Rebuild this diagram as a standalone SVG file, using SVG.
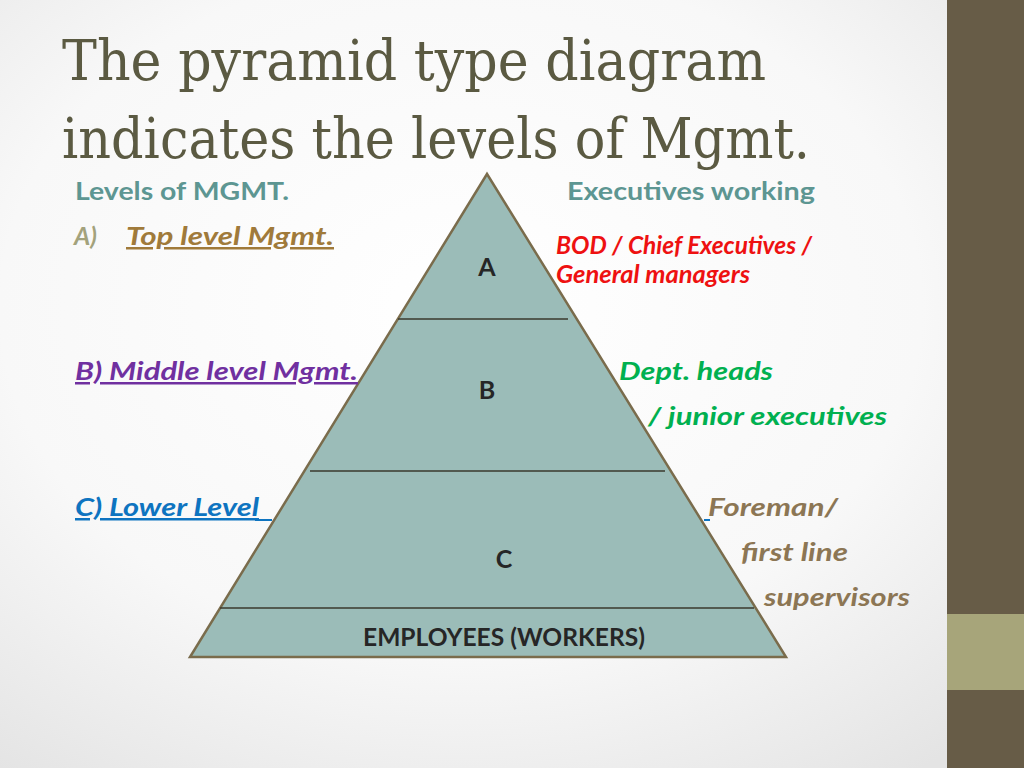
<svg xmlns="http://www.w3.org/2000/svg" width="1024" height="768" viewBox="0 0 1024 768">
<defs>
<radialGradient id="bg" cx="0.45" cy="0.4" r="0.75">
<stop offset="0" stop-color="#ffffff"/><stop offset="0.6" stop-color="#f8f8f8"/><stop offset="1" stop-color="#e4e4e4"/>
</radialGradient>
</defs>
<style>
.t{font-family:Lato,"Open Sans",sans-serif;font-weight:bold;font-size:25px}
.i{font-style:italic}
.title{font-family:"DejaVu Serif","Liberation Serif",serif;font-size:56px;fill:#5b5a42}
.ln{stroke:#3a3a2e;stroke-width:1.3}
</style>
<rect width="1024" height="768" fill="url(#bg)"/>
<rect x="947" y="0" width="77" height="768" fill="#675c47"/>
<rect x="947" y="614" width="77" height="76" fill="#a7a57a"/>
<text class="title" x="62" y="80" textLength="704" lengthAdjust="spacingAndGlyphs">The pyramid type diagram</text>
<text class="title" x="62" y="158" textLength="748" lengthAdjust="spacingAndGlyphs">indicates the levels of Mgmt.</text>
<g id="pyramid">
<polygon points="487,174 190,657 786,657" fill="#9bbcb8" stroke="#7a6c4c" stroke-width="2.5"/>
<line class="ln" x1="398" y1="319" x2="568" y2="319"/>
<line class="ln" x1="310" y1="471" x2="665" y2="471"/>
<line class="ln" x1="220" y1="608" x2="754" y2="608"/>
<text class="t" x="487" y="276" text-anchor="middle" fill="#262626" font-size="27">A</text>
<text class="t" x="487" y="399" text-anchor="middle" fill="#262626" font-size="27">B</text>
<text class="t" x="504" y="568" text-anchor="middle" fill="#262626" font-size="27">C</text>
<text class="t" x="363" y="646" fill="#262626" font-size="22" textLength="282" lengthAdjust="spacingAndGlyphs">EMPLOYEES (WORKERS)</text>
</g>
<g id="left">
<text class="t" x="75" y="200" fill="#5d9692" textLength="214" lengthAdjust="spacingAndGlyphs">Levels of MGMT.</text>
<text class="t i" x="74" y="245" fill="#a3a27c">A)</text>
<text class="t i" x="126" y="245" fill="#a07a3a" text-decoration="underline" textLength="208" lengthAdjust="spacingAndGlyphs">Top level Mgmt.</text>
<text class="t i" x="75" y="380" fill="#7030a0" text-decoration="underline" textLength="283" lengthAdjust="spacingAndGlyphs">B) Middle level Mgmt.</text>
<text class="t i" x="75" y="516" fill="#0e74c0" text-decoration="underline" textLength="184" lengthAdjust="spacingAndGlyphs">C) Lower Level</text>
<line x1="255" y1="520" x2="272" y2="520" stroke="#0e74c0" stroke-width="2"/>
</g>
<g id="right">
<text class="t" x="567" y="200" fill="#5d9692" textLength="248" lengthAdjust="spacingAndGlyphs">Executives working</text>
<text class="t i" x="556" y="254" fill="#ee1111" font-size="21" textLength="256" lengthAdjust="spacingAndGlyphs">BOD / Chief Executives /</text>
<text class="t i" x="556" y="283" fill="#ee1111" font-size="21" textLength="194" lengthAdjust="spacingAndGlyphs">General managers</text>
<text class="t i" x="619" y="380" fill="#00b050" textLength="154" lengthAdjust="spacingAndGlyphs">Dept. heads</text>
<text class="t i" x="648" y="425" fill="#00b050" textLength="239" lengthAdjust="spacingAndGlyphs">/ junior executives</text>
<text class="t i" x="708" y="516" fill="#8c7654" textLength="130" lengthAdjust="spacingAndGlyphs">Foreman/</text>
<line x1="704" y1="520" x2="710" y2="520" stroke="#0e74c0" stroke-width="2"/>
<text class="t i" x="741" y="561" fill="#8c7654" textLength="107" lengthAdjust="spacingAndGlyphs">first line</text>
<text class="t i" x="764" y="606" fill="#8c7654" textLength="146" lengthAdjust="spacingAndGlyphs">supervisors</text>
</g>
</svg>
